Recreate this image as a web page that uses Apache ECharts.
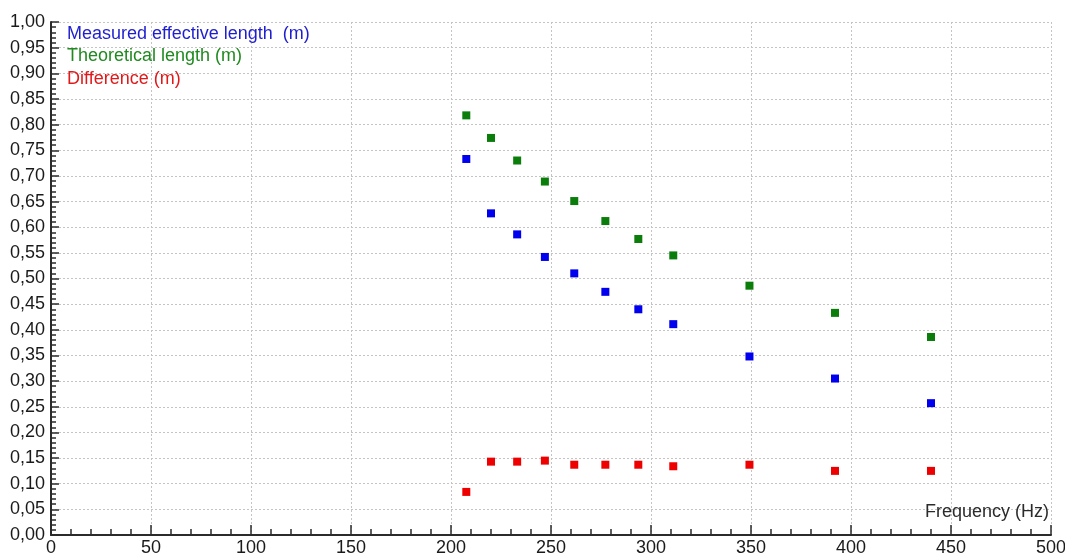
<!DOCTYPE html>
<html>
<head>
<meta charset="utf-8">
<title>Effective length vs frequency</title>
<script src="https://cdn.jsdelivr.net/npm/echarts@6/dist/echarts.min.js"></script>
<style>
  html, body { margin: 0; padding: 0; background: #ffffff; }
  #chart { width: 1065px; height: 553px; }
</style>
</head>
<body>
<div id="chart"></div>
<script>
// Note frequencies (Hz) and measured / theoretical pipe lengths (m)
const frequency = [207.65, 220.00, 233.08, 246.94, 261.63, 277.18, 293.66, 311.13, 349.23, 392.00, 440.00];
const measuredLength = [0.733, 0.627, 0.586, 0.542, 0.510, 0.474, 0.440, 0.411, 0.348, 0.305, 0.257];
const theoreticalLength = [0.818, 0.774, 0.730, 0.689, 0.651, 0.612, 0.577, 0.545, 0.486, 0.433, 0.386];
const difference = [0.084, 0.143, 0.143, 0.145, 0.137, 0.137, 0.137, 0.134, 0.137, 0.125, 0.125];

const seriesNames = ['Measured effective length  (m)', 'Theoretical length (m)', 'Difference (m)'];
const seriesColors = ['#0000ee', '#0b7d0b', '#ee0000'];
const legendTextColors = ['#1f1fcf', '#1f8a1f', '#e01a1a'];

const FONT = 'Liberation Sans, Arial, sans-serif';
const FS = 18;
const AXIS_COLOR = '#2b2b2b';
const GRID_COLOR = '#c4c4c4';

const pairs = (xs, ys) => xs.map((x, i) => [x, ys[i]]);
const valueSets = [measuredLength, theoreticalLength, difference];

const chart = echarts.init(document.getElementById('chart'), null, { renderer: 'canvas' });

chart.setOption({
  animation: false,
  backgroundColor: '#ffffff',
  textStyle: { fontFamily: FONT },
  grid: { left: 51, right: 14, top: 22, bottom: 18, containLabel: false, outerBoundsMode: 'none' },
  legend: {
    orient: 'vertical',
    left: 62,
    top: 24,
    padding: 0,
    itemGap: 2.5,
    itemWidth: 0,
    itemHeight: 0,
    selectedMode: false,
    data: seriesNames.map((name, i) => ({
      name: name,
      icon: 'rect',
      textStyle: { color: legendTextColors[i], fontSize: FS, fontFamily: FONT, lineHeight: 20 }
    }))
  },
  xAxis: {
    type: 'value',
    min: 0,
    max: 500,
    interval: 50,
    name: 'Frequency (Hz)',
    nameLocation: 'end',
    nameGap: -2,
    nameTextStyle: {
      color: AXIS_COLOR, fontSize: FS, fontFamily: FONT,
      align: 'right', verticalAlign: 'bottom', padding: [0, 0, 14, 0]
    },
    axisLine: { show: true, lineStyle: { color: AXIS_COLOR, width: 2 } },
    axisTick: { show: true, inside: true, length: 10, lineStyle: { color: AXIS_COLOR, width: 1.5 } },
    minorTick: { show: true, splitNumber: 5, length: 6, lineStyle: { color: AXIS_COLOR, width: 1.5 } },
    axisLabel: { color: '#1a1a1a', fontSize: FS, fontFamily: FONT, margin: 4 },
    splitLine: { show: true, lineStyle: { color: GRID_COLOR, type: [2, 2], width: 1 } }
  },
  yAxis: {
    type: 'value',
    min: 0,
    max: 1,
    interval: 0.05,
    axisLine: { show: true, lineStyle: { color: AXIS_COLOR, width: 2 } },
    axisTick: { show: true, inside: true, length: 8, lineStyle: { color: AXIS_COLOR, width: 1.5 } },
    minorTick: { show: true, splitNumber: 5, length: 5, lineStyle: { color: AXIS_COLOR, width: 1.5 } },
    axisLabel: {
      color: '#1a1a1a', fontSize: FS, fontFamily: FONT, margin: 6,
      formatter: v => v.toFixed(2).replace('.', ',')
    },
    splitLine: { show: true, lineStyle: { color: GRID_COLOR, type: [2, 2], width: 1 } }
  },
  series: seriesNames.map((name, i) => ({
    name: name,
    type: 'scatter',
    symbol: 'rect',
    symbolSize: 8,
    itemStyle: { color: seriesColors[i], opacity: 1 },
    data: pairs(frequency, valueSets[i]),
    z: 3
  }))
});
</script>
</body>
</html>
